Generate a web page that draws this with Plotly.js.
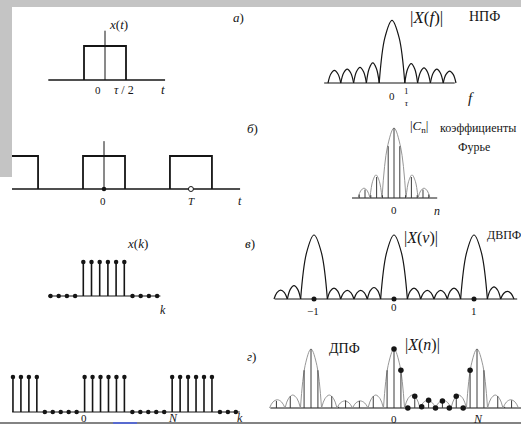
<!DOCTYPE html>
<html><head><meta charset="utf-8">
<script src="https://cdn.plot.ly/plotly-3.0.1.min.js"></script>
<style>html,body{margin:0;padding:0;background:#fff;}#chart{width:521px;height:433px;}</style>
</head><body><div id="chart"></div>
<script>
// ================= DATA =================
// а) single pulse x(t); t measured in units of τ/2
const pulseHalfWidth = 1;          // τ/2
const pulseAmp = 1;
const tAxisA = [-2.7, 2.86];
const vAxisTopA = 1.45;

// а) |X(f)| ; f in units of 1/τ
const fEdges = [-5, -4, -3, -2, -1, 1, 2, 3, 4, 5];
const fLobeHeights = [0.20, 0.22, 0.25, 0.32, 1.0, 0.31, 0.24, 0.22, 0.19];
const fAxis = [-5.3, 4.9];

// arch profile of one lobe (fraction across lobe, fraction of lobe height)
const lobeProfileX = [0, 0.22, 0.5, 0.78, 1];
const lobeProfileY = [0, 0.72, 1, 0.72, 0];

// б) periodic pulse train
const periodT = 4.14;              // in units of τ/2
const pulsePeriods = [-1, 0, 1];
const tAxisB = [-4.6, 6.48];
const vAxisTopB = 1.45;

// б) |C_n| (Fourier coefficients)
const cEdges = [-3, -2, -1, 1, 2, 3];
const cLobeHeights = [0.14, 0.33, 1.0, 0.33, 0.14];
const cAxis = [-3.5, 3.6];
const cIdx = [-6, -5, -4, -3, -2, -1, 0, 1, 2, 3, 4, 5, 6];
const cMag = [0.05, 0.12, 0.04, 0.30, 0.04, 0.74, 1.0, 0.74, 0.04, 0.30, 0.04, 0.12, 0.05];

// в) finite sequence x(k)
const kB = [-4, -3, -2, -1, 0, 1, 2, 3, 4, 5, 6, 7, 8, 9];
const xkB = [0, 0, 0, 0, 1, 1, 1, 1, 1, 1, 0, 0, 0, 0];
const kAxisB = [-4.3, 9.4];

// в) |X(ν)| (DTFT)
const vEdges = [-1.5, -1.333, -1.167, -0.833, -0.667, -0.5, -0.333, -0.167, 0.167, 0.333, 0.5, 0.667, 0.833, 1.167, 1.333, 1.5];
const vLobeHeights = [0.14, 0.21, 1.0, 0.17, 0.135, 0.135, 0.18, 1.0, 0.17, 0.135, 0.135, 0.17, 1.0, 0.19, 0.12];
const vAxisRange = [-1.49, 1.54];
const vDots = [-1, 0, 1];

// г) periodic sequence x(k)
const kG = [-9, -8, -7, -6, -5, -4, -3, -2, -1, 0, 1, 2, 3, 4, 5, 6, 7, 8, 9, 10, 11, 12, 13, 14, 15, 16, 17, 18, 19];
const xkG = [1, 1, 1, 1, 0, 0, 0, 0, 0, 1, 1, 1, 1, 1, 1, 0, 0, 0, 0, 0, 1, 1, 1, 1, 1, 1, 0, 0, 0];
const kAxisG = [-9.1, 19.5];

// г) |X(n)| (DFT)
const nEdges = [-1.5, -1.313, -1.127, -0.873, -0.687, -0.5, -0.313, -0.127, 0.127, 0.313, 0.5, 0.687, 0.873, 1.127, 1.313, 1.5];
const nLobeHeights = [0.14, 0.22, 1.0, 0.22, 0.12, 0.12, 0.22, 1.0, 0.22, 0.13, 0.13, 0.22, 1.0, 0.22, 0.14];
const dftN = 12;
const dftMag = [1.0, 0.64, 0.0, 0.2, 0.02, 0.13, 0.0, 0.12, 0.0, 0.2, 0.0, 0.64];
const nStemRange = [-18, 18];
const nuAxisG = [-1.49, 1.53];

// ================= LAYOUT HELPERS =================
const W = 521, H = 433;
const SERIF = "'Liberation Serif', 'DejaVu Serif', serif";
const INK = '#151515';
const layout = {
  width: W, height: H, margin: {l: 0, r: 0, t: 0, b: 0},
  paper_bgcolor: '#ffffff', plot_bgcolor: 'rgba(0,0,0,0)',
  showlegend: false, shapes: [], annotations: [], hovermode: false
};
const traces = [];

function panel(n, box, origin, scale) {
  const [x0, x1, y0, y1] = box, [ox, oy] = origin, [sx, sy] = scale;
  const s = n === 1 ? '' : String(n);
  layout['xaxis' + s] = {domain: [x0 / W, x1 / W], range: [(x0 - ox) / sx, (x1 - ox) / sx],
    visible: false, fixedrange: true, anchor: 'y' + s};
  layout['yaxis' + s] = {domain: [1 - y1 / H, 1 - y0 / H], range: [(oy - y1) / sy, (oy - y0) / sy],
    visible: false, fixedrange: true, anchor: 'x' + s};
  return {xaxis: 'x' + s, yaxis: 'y' + s};
}
function line(ax, x, y, color, width, shape) {
  traces.push(Object.assign({type: 'scatter', mode: 'lines', x, y,
    line: {color, width, shape: shape || 'linear', smoothing: 1}, connectgaps: false, hoverinfo: 'skip'}, ax));
}
function dots(ax, x, y, size, fill) {
  traces.push(Object.assign({type: 'scatter', mode: 'markers', x, y, cliponaxis: false,
    marker: {size, color: fill || INK, line: {color: INK, width: fill ? 1 : 0}}, hoverinfo: 'skip'}, ax));
}
function lobes(edges, heights) {
  const x = [], y = [];
  for (let i = 0; i < heights.length; i++) {
    const a = edges[i], b = edges[i + 1];
    lobeProfileX.forEach((p, j) => { x.push(a + p * (b - a)); y.push(lobeProfileY[j] * heights[i]); });
    x.push(null); y.push(null);
  }
  return {x, y};
}
function stems(xs, ys) {
  const x = [], y = [];
  xs.forEach((v, i) => { if (ys[i] > 0) { x.push(v, v, null); y.push(0, ys[i], null); } });
  return {x, y};
}
function txt(px, py, text, size, opt) {
  layout.annotations.push(Object.assign({xref: 'paper', yref: 'paper', x: px / W, y: 1 - py / H,
    text, showarrow: false, xanchor: 'center', yanchor: 'middle',
    font: {family: SERIF, size, color: INK}}, opt || {}));
}

// ================= PANELS =================
// а) x(t)
const A1 = panel(1, [40, 180, 15, 100], [105, 80], [21, 34]);
line(A1, tAxisA, [0, 0], INK, 1.3);
line(A1, [0, 0], [0, vAxisTopA], INK, 1);
line(A1, [-pulseHalfWidth, -pulseHalfWidth, pulseHalfWidth, pulseHalfWidth], [0, pulseAmp, pulseAmp, 0], INK, 1.8);

// б) periodic pulses
const A2 = panel(2, [12, 250, 130, 205], [104, 189], [21, 33]);
line(A2, tAxisB, [0, 0], INK, 1.3);
line(A2, [0, 0], [0, vAxisTopB], INK, 1);
{
  const x = [], y = [];
  pulsePeriods.forEach(p => {
    const c = p * periodT;
    x.push(c - pulseHalfWidth, c - pulseHalfWidth, c + pulseHalfWidth, c + pulseHalfWidth, null);
    y.push(0, pulseAmp, pulseAmp, 0, null);
  });
  line(A2, x, y, INK, 1.8);
}
dots(A2, [0], [0], 4.5);
dots(A2, [periodT], [0], 5, '#ffffff');

// а) |X(f)|
const A3 = panel(3, [300, 521, 0, 110], [392, 83], [12.8, 62.7]);
line(A3, fAxis, [0, 0], INK, 1.1);
{ const L = lobes(fEdges, fLobeHeights); line(A3, L.x, L.y, INK, 1.2, 'spline'); }

// б) |C_n|
const A4 = panel(4, [300, 521, 110, 220], [394, 198], [12, 70]);
line(A4, cAxis, [0, 0], INK, 1.1);
{ const L = lobes(cEdges, cLobeHeights); line(A4, L.x, L.y, '#8a8a8a', 0.9, 'spline'); }
{
  const step = 2 * pulseHalfWidth / periodT;  // τ/T in units of 1/τ
  const S = stems(cIdx.map(n => n * step), cMag);
  line(A4, S.x, S.y, '#3a3a3a', 1);
}

// в) x(k)
const A5 = panel(5, [40, 175, 230, 320], [83.3, 296], [8.2, 34]);
line(A5, kAxisB, [0, 0], INK, 1.2);
{ const S = stems(kB, xkB); line(A5, S.x, S.y, INK, 1.6); }
dots(A5, kB, xkB, 4.5);

// в) |X(ν)|
const A6 = panel(6, [268, 521, 220, 320], [394, 299], [80, 64]);
line(A6, vAxisRange, [0, 0], INK, 1.1);
{ const L = lobes(vEdges, vLobeHeights); line(A6, L.x, L.y, INK, 1.2, 'spline'); }
dots(A6, vDots, vDots.map(() => 0), 5);

// г) periodic x(k)
const A7 = panel(7, [8, 250, 350, 421], [84.6, 412], [7.96, 35]);
line(A7, kAxisG, [0, 0], INK, 1.2);
{ const S = stems(kG, xkG); line(A7, S.x, S.y, INK, 1.6); }
dots(A7, kG, xkG, 4.5);

// г) |X(n)|
const A8 = panel(8, [268, 521, 325, 421], [394, 408], [83, 59]);
line(A8, nuAxisG, [0, 0], INK, 1.1);
{ const L = lobes(nEdges, nLobeHeights); line(A8, L.x, L.y, '#8a8a8a', 0.9, 'spline'); }
{
  const xs = [], ys = [];
  for (let n = nStemRange[0]; n <= nStemRange[1]; n++) {
    xs.push(n / dftN);
    ys.push(dftMag[((n % dftN) + dftN) % dftN]);
  }
  const S = stems(xs, ys);
  line(A8, S.x, S.y, '#3a3a3a', 1);
}
dots(A8, dftMag.map((_, n) => n / dftN), dftMag, 5.5);

// ================= BACKGROUND / FRAME =================
layout.shapes.push(
  {type: 'rect', xref: 'paper', yref: 'paper', x0: 0, x1: 1, y0: 1 - 7 / H, y1: 1, fillcolor: '#c4c4c4', line: {width: 0}, layer: 'above'},
  {type: 'rect', xref: 'paper', yref: 'paper', x0: 0, x1: 12 / W, y0: 1 - 177 / H, y1: 1, fillcolor: '#c4c4c4', line: {width: 0}, layer: 'above'},
  {type: 'line', xref: 'paper', yref: 'paper', x0: 0, x1: 1, y0: 1 - 423 / H, y1: 1 - 423 / H, line: {color: '#5a5a5a', width: 1.5}, layer: 'above'},
  {type: 'line', xref: 'paper', yref: 'paper', x0: 113 / W, x1: 137 / W, y0: 1 - 423 / H, y1: 1 - 423 / H, line: {color: '#5468d8', width: 1.8}, layer: 'above'}
);

// ================= TEXT =================
// а)
txt(118, 25, '<i>x</i>(<i>t</i>)', 13);
txt(98, 90, '0', 11);
txt(124, 90, '<i>τ</i> / 2', 12);
txt(163, 90, '<i>t</i>', 13);
txt(238, 17, '<i>а</i>)', 13);
txt(426, 18, '|<i>X</i>(<i>f</i>)|', 17);
txt(484, 16, 'НПФ', 14);
txt(392, 96, '0', 11);
txt(406, 97, '1<br><i>τ</i>', 9);
txt(471, 98, '<i>f</i>', 15);
// б)
txt(103, 201, '0', 11);
txt(191, 201, '<i>T</i>', 11);
txt(240, 201, '<i>t</i>', 12);
txt(252, 128, '<i>б</i>)', 13);
txt(419, 127, '|<i>C</i><sub>n</sub>|', 13);
txt(478, 128, 'коэффициенты', 12);
txt(474, 147, 'Фурье', 12);
txt(394, 210, '0', 11);
txt(437, 211, '<i>n</i>', 12);
// в)
txt(137, 243, '<i>x</i>(<i>k</i>)', 13);
txt(163, 310, '<i>k</i>', 12);
txt(250, 243, '<i>в</i>)', 13);
txt(313, 311, '−1', 11);
txt(394, 307, '0', 11);
txt(474, 311, '1', 11);
txt(421, 238, '|<i>X</i>(<i>ν</i>)|', 16);
txt(504, 235, 'ДВПФ', 12);
// г)
txt(84, 418, '0', 11);
txt(173, 418, '<i>N</i>', 12);
txt(240, 418, '<i>k</i>', 12);
txt(251, 356, '<i>г</i>)', 13);
txt(344, 348, 'ДПФ', 14);
txt(422, 345, '|<i>X</i>(<i>n</i>)|', 16);
txt(394, 419, '0', 11);
txt(478, 419, '<i>N</i>', 12);

Plotly.newPlot('chart', traces, layout, {displayModeBar: false, staticPlot: true});
</script>
</body></html>
